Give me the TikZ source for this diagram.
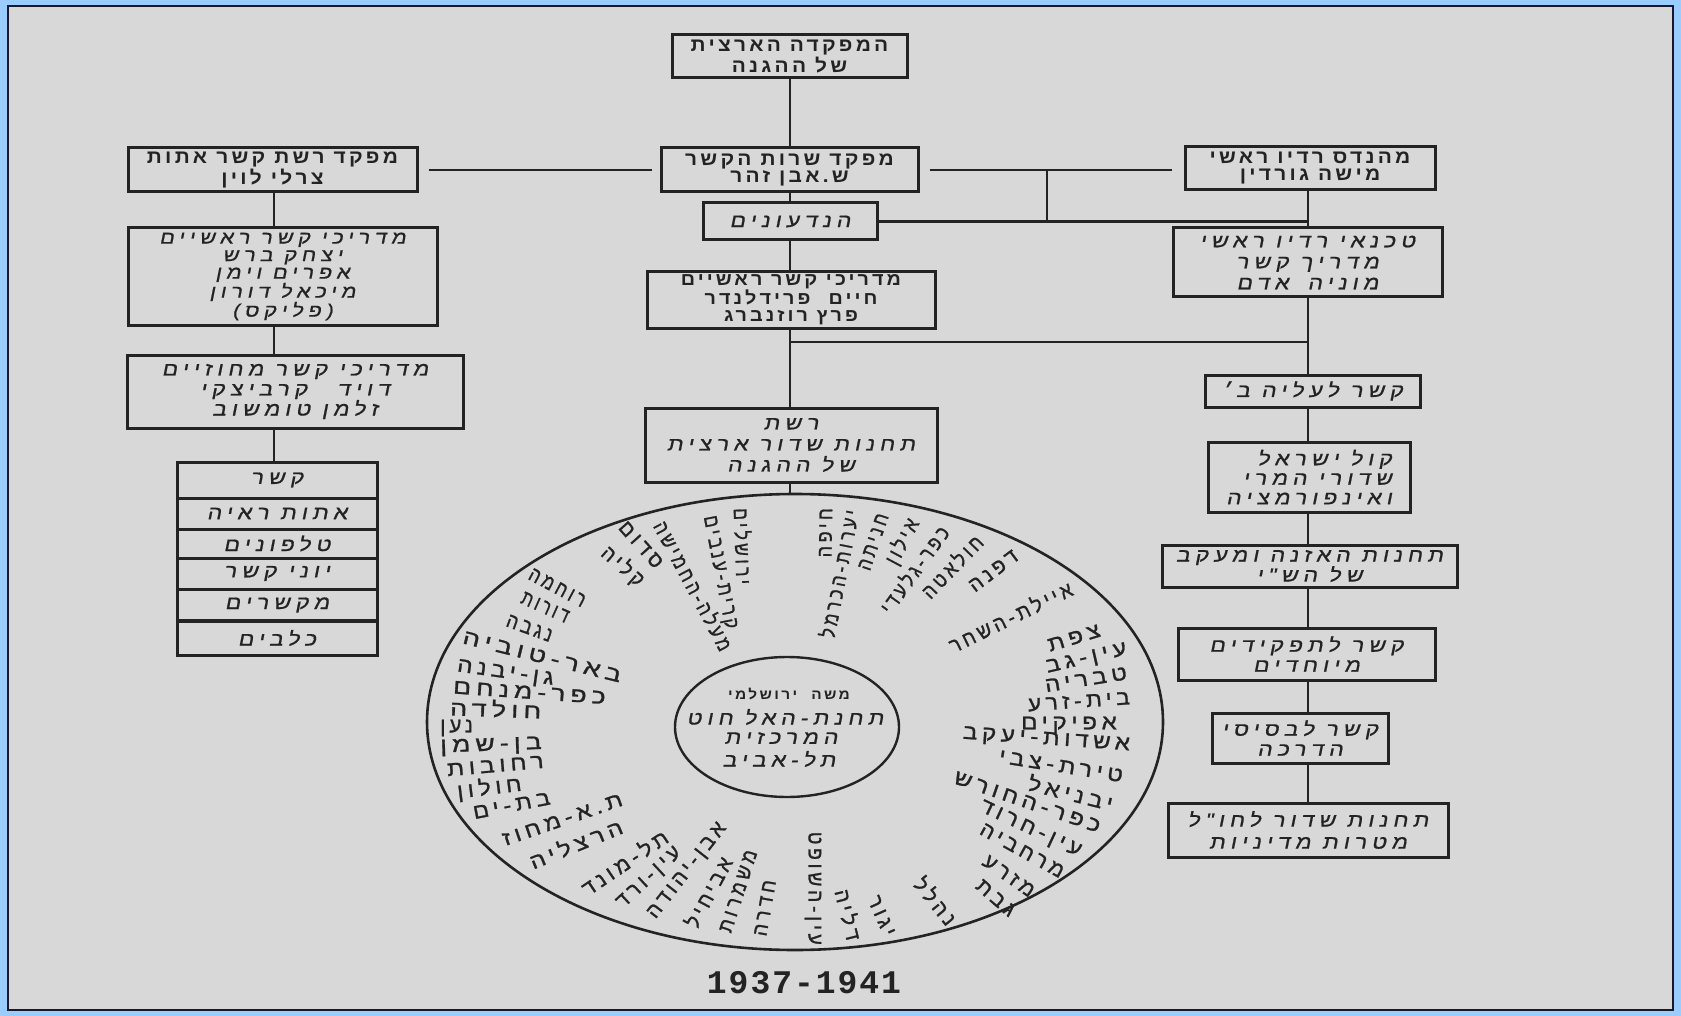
\documentclass[tikz,border=0pt]{standalone}
\usepackage{fontspec}
\usetikzlibrary{shapes.geometric}
\TeXXeTstate=1
\newfontfamily\hebB[Script=Hebrew,FakeStretch=1.1,LetterSpace=17]{Liberation Sans}
\newfontfamily\hebI[Script=Hebrew,FakeSlant=0.2,FakeStretch=1.2,LetterSpace=27,FakeBold=0.8]{Liberation Sans}
\newfontfamily\hebR[Script=Hebrew,FakeStretch=1.15,LetterSpace=22,FakeBold=1.2]{Liberation Sans}
\newfontfamily\yearfont[LetterSpace=6]{Liberation Mono}
\newcommand\hebr[1]{\beginR#1\endR}
\definecolor{bgblue}{RGB}{153,204,255}
\definecolor{panel}{RGB}{216,216,216}
\definecolor{ink}{RGB}{35,35,35}
\definecolor{frame}{RGB}{25,25,45}
\begin{document}
\begin{tikzpicture}[x=1pt,y=-1pt,
  box/.style={draw=ink,line width=3pt,inner sep=0pt,align=center,text=ink},
  bbox/.style={box,font=\hebB\bfseries\fontsize{19}{17}\selectfont},
  ibox/.style={box,font=\hebI\fontsize{19}{20}\selectfont},
  conn/.style={draw=ink,line width=2.6pt},
  ringR/.style={font=\hebR\fontsize{21}{21}\selectfont,inner sep=0pt,text=ink,anchor=east},
  ringL/.style={ringR,anchor=west},
]
\fill[bgblue] (0,0) rectangle (1681,1016);
\filldraw[fill=panel,draw=frame,line width=2pt] (8,6) rectangle (1673,1010);
\coordinate (cx) at (790,0);
\coordinate (lx) at (274,0);
\coordinate (rx) at (1308,0);
% centre column
\node[bbox,minimum width=235,minimum height=43] (top) at (789.5,56.5) {\hebr{המפקדה הארצית}\\\hebr{של ההגנה}};
\node[bbox,minimum width=257,minimum height=44] (C2) at (789.5,170) {\hebr{מפקד שרות הקשר}\\\hebr{ש.אבן זהר}};
\node[ibox,minimum width=174,minimum height=37] (C3) at (790,221.5) {\hebr{הנדעונים}};
\node[bbox,minimum width=288,minimum height=56,font=\hebB\bfseries\fontsize{18}{17}\selectfont] (C4) at (791,300) {\hebr{מדריכי קשר ראשיים}\\\hebr{חיים\quad פרידלנדר}\\\hebr{פרץ רוזנברג}};
\node[ibox,minimum width=292,minimum height=74,font=\hebI\fontsize{19}{21}\selectfont] (C5) at (791,445) {\hebr{רשת}\\\hebr{תחנות שדור ארצית}\\\hebr{של ההגנה}};
% left column
\node[bbox,minimum width=289,minimum height=44] (L1) at (272.5,170) {\hebr{מפקד רשת קשר אתות}\\\hebr{צרלי לוין}};
\node[ibox,minimum width=309,minimum height=97,font=\hebI\fontsize{18}{17.5}\selectfont] (L2) at (282.5,276.5) {\hebr{מדריכי קשר ראשיים}\\\hebr{יצחק ברש}\\\hebr{אפרים וימן}\\\hebr{מיכאל דורון}\\\hebr{(פליקס)}};
\node[ibox,minimum width=336,minimum height=73,font=\hebI\fontsize{19}{20}\selectfont] (L3) at (295,391.5) {\hebr{מדריכי קשר מחוזיים}\\\hebr{דויד\hspace{30pt}קרביצקי}\\\hebr{זלמן טומשוב}};
\node[ibox,minimum width=200,minimum height=36] (L4a) at (277,480) {\hebr{קשר}};
\node[ibox,minimum width=200,minimum height=31] (L4b) at (277,513.5) {\hebr{אתות ראיה}};
\node[ibox,minimum width=200,minimum height=29] (L4c) at (277,543.5) {\hebr{טלפונים}};
\node[ibox,minimum width=200,minimum height=31] (L4d) at (277,573.5) {\hebr{יוני קשר}};
\node[ibox,minimum width=200,minimum height=31.5] (L4e) at (277,605) {\hebr{מקשרים}};
\node[ibox,minimum width=200,minimum height=34] (L4f) at (277,638) {\hebr{כלבים}};
% right column
\node[bbox,minimum width=250,minimum height=43] (R1) at (1310,168.5) {\hebr{מהנדס רדיו ראשי}\\\hebr{מישה גורדין}};
\node[ibox,minimum width=269,minimum height=69,font=\hebI\fontsize{19}{21}\selectfont] (R2) at (1307.5,262.5) {\hebr{טכנאי רדיו ראשי}\\\hebr{מדריך קשר}\\\hebr{מוניה\quad אדם}};
\node[ibox,minimum width=215,minimum height=32] (R3) at (1312.5,391) {\hebr{קשר לעליה ב׳}};
\node[ibox,minimum width=202,minimum height=70,align=right,font=\hebI\fontsize{19}{19.5}\selectfont] (R4) at (1309,477) {\hebr{קול ישראל}\\\hebr{שדורי המרי}\\\hebr{ואינפורמציה}};
\node[ibox,minimum width=295,minimum height=42,font=\hebI\fontsize{19}{18}\selectfont] (R5) at (1309.5,566) {\hebr{תחנות האזנה ומעקב}\\\hebr{של הש"י}};
\node[ibox,minimum width=257,minimum height=52] (R6) at (1306.5,654) {\hebr{קשר לתפקידים}\\\hebr{מיוחדים}};
\node[ibox,minimum width=176,minimum height=50] (R7) at (1300,738) {\hebr{קשר לבסיסי}\\\hebr{הדרכה}};
\node[ibox,minimum width=280,minimum height=54,font=\hebI\fontsize{19}{22}\selectfont] (R8) at (1308,830) {\hebr{תחנות שדור לחו"ל}\\\hebr{מטרות מדיניות}};
% ring
\node[draw=ink,line width=2.6pt,ellipse,minimum width=736,minimum height=456,inner sep=0pt] (ring) at (795,722) {};
\node[draw=ink,line width=2.4pt,ellipse,minimum width=224,minimum height=140,inner sep=0pt] (hub) at (787,727) {};
\node[text=ink,inner sep=0pt,font=\hebB\bfseries\fontsize{14}{14}\selectfont] (hub1) at (789,694) {\hebr{משה\quad ירושלמי}};
\node[text=ink,inner sep=0pt,font=\hebI\fontsize{19}{19}\selectfont] (hub2) at (785,717) {\hebr{תחנת-האל חוט}};
\node[text=ink,inner sep=0pt,font=\hebI\fontsize{19}{19}\selectfont] (hub3) at (781,738) {\hebr{המרכזית}};
\node[text=ink,inner sep=0pt,font=\hebI\fontsize{19}{19}\selectfont] (hub4) at (779,759) {\hebr{תל-אביב}};
\foreach \x/\y/\r/\s/\w [count=\i] in {742/508/-88/0.72/ירושלים, 708/516/-79/0.72/קרית-ענבים, 660/522/-62/0.72/מעלה-החמישה, 622/524/-48/0.85/סדום, 604/550/-41/0.8/קליה, 530/573/-28/0.72/רוחמה, 522/597/-24/0.68/דורות, 507/620/-20/0.75/נגבה, 463/637/-14/1.12/באר-טוביה, 457/667/-8/1.0/גן-יבנה, 453/687/-4/1.1/כפר-מנחם, 450/707/-2/1.12/חולדה, 440/728/0/0.85/נען, 440/748/2/1.1/בן-שמן, 447/770/5/1.02/רחובות, 457/792/7/0.98/חולון, 473/813/11/0.98/בת-ים, 503/840/19/1.0/ת.א-מחוז, 530/862/22/1.0/הרצליה, 583/890/34/0.9/תל-מונד, 620/906/43/0.85/עין-ורד, 652/917/52/0.85/אבן-יהודה, 690/926/62/0.82/אביחיל, 725/932/72/0.78/משמרות, 760/936/80/0.8/חדרה}
  {\node[ringL,rotate=\r,xscale=\s] (wl\i) at (\x,\y) {\hebr{\w}};}
\foreach \x/\y/\r/\s/\w [count=\i] in {826/508/89/0.75/חיפה, 851/510/79/0.72/יערות-הכרמל, 883/514/71/0.72/חניתה, 914/520/62/0.75/אילון, 944/528/54/0.72/כפר-גלעדי, 979/538/46/0.75/חולאטה, 1016/554/37/0.85/דפנה, 1071/587/26/0.8/איילת-השחר, 1100/630/17/1.0/צפת, 1127/650/13/1.0/עין-גב, 1127/673/9/1.0/טבריה, 1130/698/4/0.95/בית-זרע, 1117/725/0/1.0/אפיקים, 1130/746/-4/1.0/אשדות-יעקב, 1123/776/-9/1.0/טירת-צבי, 1113/803/-14/1.0/יבניאל, 1100/827/-19/1.0/כפר-החורש, 1080/853/-25/0.95/עין-חרוד, 1063/873/-29/0.9/מרחביה, 1033/893/-35/0.9/מזרע, 1013/913/-41/0.9/גבת, 953/922/-51/0.85/נהלל, 890/935/-66/0.85/יגור, 855/940/-76/0.85/דליה, 813/945/-90/0.8/עין-השופט}
  {\node[ringR,rotate=\r,xscale=\s] (wr\i) at (\x,\y) {\hebr{\w}};}
\node[text=ink,inner sep=0pt,font=\yearfont\bfseries\fontsize{33}{33}\selectfont] (year) at (804,983) {1937-1941};
% connectors
\draw[conn] (top.south -| cx) -- (C2.north -| cx);
\draw[conn] (C2.south -| cx) -- (C3.north -| cx);
\draw[conn] (C3.south -| cx) -- (C4.north -| cx);
\draw[conn] (C4.south -| cx) -- (C5.north -| cx);
\draw[conn] (C5.south -| cx) -- (cx |- ring.north);
\draw[conn,shorten <=10pt,shorten >=8pt] (L1.east) -- (C2.west);
\draw[conn,shorten <=10pt,shorten >=12pt] (C2.east) -- (R1.west |- C2.east);
\coordinate (j1) at (1047,170);
\draw[conn] (j1) -- (j1 |- C3.east);
\draw[conn] (C3.east) -- (C3.east -| rx);
\coordinate (j2) at (790,342);
\draw[conn] (j2) -- (j2 -| rx);
\draw[conn] (L1.south -| lx) -- (L2.north -| lx);
\draw[conn] (L2.south -| lx) -- (L3.north -| lx);
\draw[conn] (L3.south -| lx) -- (L4a.north -| lx);
\draw[conn] (R1.south -| rx) -- (R2.north -| rx);
\draw[conn] (R2.south -| rx) -- (R3.north -| rx);
\draw[conn] (R3.south -| rx) -- (R4.north -| rx);
\draw[conn] (R4.south -| rx) -- (R5.north -| rx);
\draw[conn] (R5.south -| rx) -- (R6.north -| rx);
\draw[conn] (R6.south -| rx) -- (R7.north -| rx);
\draw[conn] (R7.south -| rx) -- (R8.north -| rx);
\end{tikzpicture}
\end{document}
